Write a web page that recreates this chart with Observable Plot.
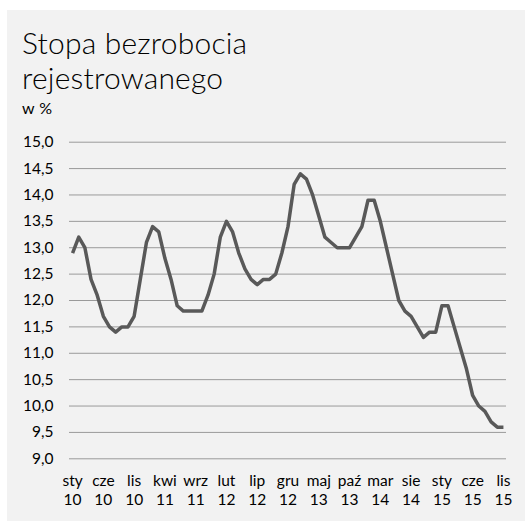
<!DOCTYPE html>
<html>
<head>
<meta charset="utf-8">
<script src="https://cdn.jsdelivr.net/npm/d3@7"></script>
<script src="https://cdn.jsdelivr.net/npm/@observablehq/plot@0.6"></script>
<style>
  html, body { margin: 0; padding: 0; background: #ffffff; }
  body { width: 525px; height: 521px; position: relative; overflow: hidden; font-family: Lato, "Open Sans", sans-serif; }
  #panel { position: absolute; left: 7px; top: 10px; width: 518px; height: 511px; background: #f2f2f2; }
  #chart { position: absolute; left: 0; top: 0; }
  .t { position: absolute; left: 22px; color: #000; white-space: nowrap; line-height: 1; }
  #t1 { top: 27px; font-size: 30px; font-weight: 300; letter-spacing: 0.2px; }
  #t2 { top: 62px; font-size: 30px; font-weight: 300; letter-spacing: 0.2px; }
  #t3 { top: 100px; font-size: 16px; letter-spacing: 0.5px; }
</style>
</head>
<body>
<div id="panel"></div>
<div id="chart"></div>
<div class="t" id="t1">Stopa bezrobocia</div>
<div class="t" id="t2">rejestrowanego</div>
<div class="t" id="t3">w %</div>
<script>
// Monthly registered unemployment rate, Jan 2010 – Nov 2015 (%)
const rate2010 = [12.9, 13.2, 13.0, 12.4, 12.1, 11.7, 11.5, 11.4, 11.5, 11.5, 11.7, 12.4];
const rate2011 = [13.1, 13.4, 13.3, 12.8, 12.4, 11.9, 11.8, 11.8, 11.8, 11.8, 12.1, 12.5];
const rate2012 = [13.2, 13.5, 13.3, 12.9, 12.6, 12.4, 12.3, 12.4, 12.4, 12.5, 12.9, 13.4];
const rate2013 = [14.2, 14.4, 14.3, 14.0, 13.6, 13.2, 13.1, 13.0, 13.0, 13.0, 13.2, 13.4];
const rate2014 = [13.9, 13.9, 13.5, 13.0, 12.5, 12.0, 11.8, 11.7, 11.5, 11.3, 11.4, 11.4];
const rate2015 = [11.9, 11.9, 11.5, 11.1, 10.7, 10.2, 10.0, 9.9, 9.7, 9.6, 9.6];

// x tick labels (every 5th month)
const tickLabels = ["sty\n10", "cze\n10", "lis\n10", "kwi\n11", "wrz\n11", "lut\n12", "lip\n12",
  "gru\n12", "maj\n13", "paź\n13", "mar\n14", "sie\n14", "sty\n15", "cze\n15", "lis\n15"];
const yTicks = [9.0, 9.5, 10.0, 10.5, 11.0, 11.5, 12.0, 12.5, 13.0, 13.5, 14.0, 14.5, 15.0];

const values = [...rate2010, ...rate2011, ...rate2012, ...rate2013, ...rate2014, ...rate2015];
const data = values.map((v, i) => ({i, v}));
const tickIdx = tickLabels.map((_, k) => k * 5);

const chart = Plot.plot({
  width: 525,
  height: 521,
  marginLeft: 69,
  marginRight: 19,
  marginTop: 141.7,
  marginBottom: 62.7,
  style: {background: "transparent", fontFamily: "Lato, 'Open Sans', sans-serif", fontSize: "15px", color: "#000"},
  x: {type: "linear", domain: [-0.5, values.length - 0.5]},
  y: {domain: [9, 15]},
  marks: [
    Plot.ruleY(yTicks, {stroke: "#9a9a9a", strokeWidth: 1, strokeOpacity: 1}),
    Plot.axisY({ticks: yTicks, tickSize: 0, tickPadding: 16, fontSize: 15.5, fill: "#000",
      tickFormat: d => d.toFixed(1).replace(".", ","), label: null}),
    Plot.axisX({ticks: tickIdx, tickSize: 0, tickPadding: 14, fontSize: 15.5, fill: "#000", lineHeight: 1.2,
      tickFormat: d => tickLabels[d / 5], label: null}),
    Plot.line(data, {x: "i", y: "v", stroke: "#595959", strokeWidth: 3.5, strokeLinejoin: "round", strokeLinecap: "butt"})
  ]
});
document.getElementById("chart").appendChild(chart);
</script>
</body>
</html>
